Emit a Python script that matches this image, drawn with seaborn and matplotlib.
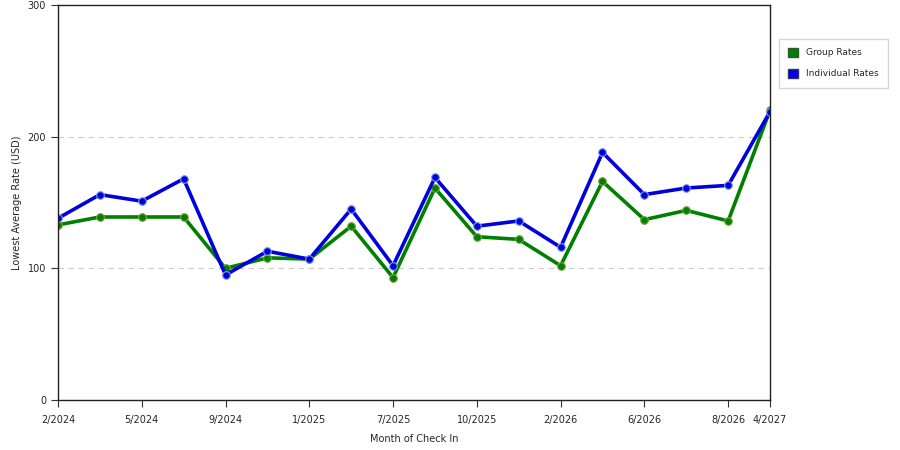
import matplotlib
matplotlib.use('Agg')
import matplotlib.pyplot as plt
import pandas as pd
import seaborn as sns
from matplotlib.patches import Patch

# Data
months = ['2/2024', '3/2024', '5/2024', '7/2024', '9/2024', '11/2024', '1/2025', '4/2025', '7/2025',
          '8/2025', '10/2025', '12/2025', '2/2026', '4/2026', '6/2026', '7/2026', '8/2026', '4/2027']
group_rates = [133, 139, 139, 139, 100, 108, 107, 132, 93, 161, 124, 122, 102, 166, 137, 144, 136, 220]
individual_rates = [138, 156, 151, 168, 95, 113, 107, 145, 102, 169, 132, 136, 116, 188, 156, 161, 163, 219]
tick_pos = [0, 2, 4, 6, 8, 10, 12, 14, 16, 17]
tick_labels = ['2/2024', '5/2024', '9/2024', '1/2025', '7/2025', '10/2025', '2/2026', '6/2026', '8/2026', '4/2027']

df = pd.DataFrame({
    'idx': list(range(len(months))) * 2,
    'rate': group_rates + individual_rates,
    'series': ['Group Rates'] * len(months) + ['Individual Rates'] * len(months),
})

sns.set_style('white')
plt.rcParams['font.family'] = ['DejaVu Sans']

fig, ax = plt.subplots(figsize=(9, 4.5), dpi=100)
fig.subplots_adjust(left=0.0644, right=0.8556, top=0.989, bottom=0.111)

palette = {'Group Rates': '#008000', 'Individual Rates': '#0000dd'}
sns.lineplot(data=df, x='idx', y='rate', hue='series', palette=palette, ax=ax,
             linewidth=2.6, marker='o', markersize=5.5, markeredgewidth=0.8,
             markeredgecolor='#7aa0e0', legend=False)
# green markers get a lighter olive edge
for line in ax.get_lines():
    if line.get_color() == '#008000':
        line.set_markeredgecolor('#80a040')

ax.set_xlim(0, 17)
ax.set_ylim(0, 300)
ax.set_yticks([0, 100, 200, 300])
ax.set_xticks(tick_pos)
ax.set_xticklabels(tick_labels)
ax.tick_params(axis='both', labelsize=7, length=5, color='#333333', direction='out',
               bottom=True, left=True)
ax.tick_params(axis='x', pad=6)
for y in [100, 200]:
    ax.axhline(y, color='#cccccc', linestyle=(0, (5, 4)), linewidth=0.8, zorder=0)
for s in ax.spines.values():
    s.set_color('#222222')
    s.set_linewidth(1.0)

ax.set_xlabel('Month of Check In', fontsize=7, labelpad=6)
ax.set_ylabel('Lowest Average Rate (USD)', fontsize=7, labelpad=4)

handles = [Patch(facecolor='#008000', edgecolor='#335533', label='Group Rates'),
           Patch(facecolor='#0000ee', edgecolor='#333366', label='Individual Rates')]
leg = ax.legend(handles=handles, loc='upper left', bbox_to_anchor=(1.0126, 0.914),
                fontsize=6.5, frameon=True, fancybox=False, edgecolor='#cccccc',
                handlelength=1.1, handleheight=1.1, borderpad=1.0, labelspacing=1.3,
                handletextpad=0.9, borderaxespad=0)

fig.savefig('out.png', dpi=100)
